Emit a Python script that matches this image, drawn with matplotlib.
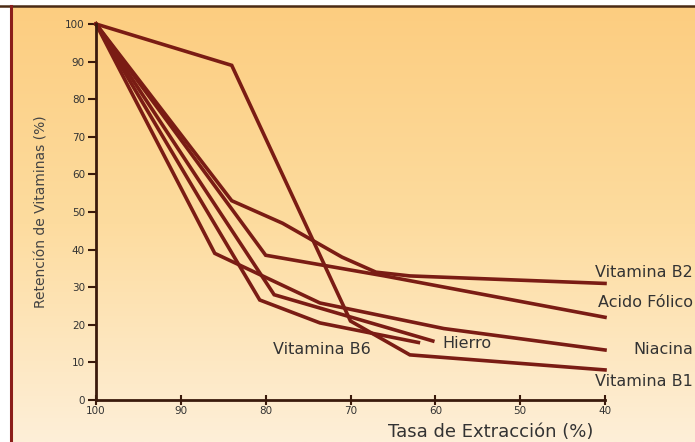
import numpy as np
import matplotlib.pyplot as plt
from matplotlib.colors import LinearSegmentedColormap
from matplotlib.transforms import blended_transform_factory

# series (tasa de extraccion %, retencion %)
b1_x = [100, 84, 70, 63, 40]
b1_y = [100, 89, 21, 12, 8]
b2_x = [100, 84, 78, 71, 67, 63, 40]
b2_y = [100, 53, 47, 38, 34, 33, 31]
folico_x = [100, 80, 66, 40]
folico_y = [100, 38.5, 33, 22]
niacina_x = [100, 86, 73.6, 59, 40]
niacina_y = [100, 39, 25.8, 19, 13.3]
hierro_x = [100, 79, 60.3]
hierro_y = [100, 28, 15.7]
b6_x = [100, 80.7, 73.6, 62]
b6_y = [100, 26.6, 20.5, 15.3]

xticks = [100, 90, 80, 70, 60, 50, 40]
yticks = [0, 10, 20, 30, 40, 50, 60, 70, 80, 90, 100]

# etiquetas a la derecha: (texto, retencion)
etiquetas = [('Vitamina B2', 33.8), ('Acido Fólico', 26.0),
             ('Niacina', 13.3), ('Vitamina B1', 5.0)]

plt.rcParams['font.family'] = ['DejaVu Sans']
linea = '#7a1c14'
eje = '#3a1a0c'
gris = '#333333'

fig = plt.figure(figsize=(6.95, 4.42), dpi=100)
fig.patch.set_facecolor('white')

# fondo degradado + marco
bg = fig.add_axes([0, 0, 1, 1])
bg.set_xlim(0, 695)
bg.set_ylim(442, 0)
bg.axis('off')
cmap = LinearSegmentedColormap.from_list('fondo', ['#fccd80', '#fddc9f', '#feefd8'])
grad = np.linspace(0, 1, 256).reshape(-1, 1)
bg.imshow(grad, cmap=cmap, aspect='auto', extent=[11, 695, 442, 6], zorder=0)
bg.plot([0, 695], [6, 6], color='#4a2a14', lw=1.8, zorder=1)
bg.plot([11, 11], [6, 442], color='#8b1e1a', lw=2.2, zorder=1)

ax = fig.add_axes([96 / 695, 1 - 400 / 442, 509 / 695, 376 / 442])
ax.set_facecolor('none')
ax.set_xlim(100, 40)
ax.set_ylim(0, 100)

series = [(b1_x, b1_y), (b2_x, b2_y), (folico_x, folico_y),
          (niacina_x, niacina_y), (hierro_x, hierro_y), (b6_x, b6_y)]
for xs, ys in series:
    ax.plot(xs, ys, color=linea, lw=2.6, clip_on=False, solid_joinstyle='miter')

for s in ['top', 'right']:
    ax.spines[s].set_visible(False)
for s in ['left', 'bottom']:
    ax.spines[s].set_color(eje)
    ax.spines[s].set_linewidth(2)

ax.set_xticks(xticks)
ax.set_yticks(yticks)
ax.tick_params(axis='y', direction='out', length=6, width=1.5, color=eje,
               labelsize=7.5, labelcolor=gris, pad=2)
ax.tick_params(axis='x', direction='inout', length=7, width=1.5, color=eje,
               labelsize=7.5, labelcolor=gris, pad=1)

ax.set_ylabel('Retención de Vitaminas (%)', fontsize=10, color='#444444', labelpad=12)
ax.set_xlabel('Tasa de Extracción (%)', fontsize=13, color=gris)
ax.xaxis.set_label_coords(0.775, -0.06)

der = blended_transform_factory(fig.transFigure, ax.transData)
for txt, yv in etiquetas:
    ax.text(693 / 695, yv, txt, transform=der, fontsize=11.5,
            color=gris, ha='right', va='center')

ax.text(59.2, 15.0, 'Hierro', fontsize=11.5, color=gris, ha='left', va='center')
ax.text(67.6, 13.3, 'Vitamina B6', fontsize=11.5, color=gris, ha='right', va='center')

fig.savefig('out.png', dpi=100)
